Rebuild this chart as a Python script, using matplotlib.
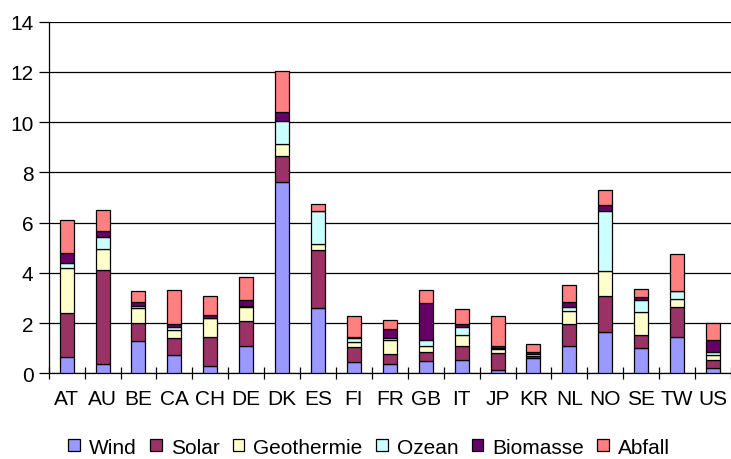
import matplotlib
matplotlib.use("Agg")
import matplotlib.pyplot as plt
import numpy as np

plt.rcParams['font.family'] = ['Liberation Sans', 'DejaVu Sans']

countries = ["AT", "AU", "BE", "CA", "CH", "DE", "DK", "ES", "FI", "FR",
             "GB", "IT", "JP", "KR", "NL", "NO", "SE", "TW", "US"]
wind      = [0.66, 0.37, 1.28, 0.73, 0.28, 1.08, 7.63, 2.60, 0.44, 0.36,
             0.48, 0.52, 0.14, 0.60, 1.09, 1.66, 1.02, 1.46, 0.20]
solar     = [1.74, 3.73, 0.72, 0.68, 1.15, 1.00, 1.04, 2.30, 0.61, 0.40,
             0.36, 0.58, 0.66, 0.10, 0.89, 1.42, 0.49, 1.19, 0.33]
geotherm  = [1.78, 0.86, 0.60, 0.30, 0.76, 0.55, 0.45, 0.25, 0.21, 0.58,
             0.25, 0.44, 0.17, 0.00, 0.51, 1.01, 0.92, 0.31, 0.21]
ozean     = [0.21, 0.46, 0.07, 0.12, 0.03, 0.05, 0.92, 1.30, 0.15, 0.08,
             0.25, 0.29, 0.02, 0.07, 0.14, 2.39, 0.49, 0.31, 0.11]
biomasse  = [0.40, 0.24, 0.16, 0.13, 0.11, 0.23, 0.37, 0.02, 0.03, 0.34,
             1.45, 0.12, 0.09, 0.07, 0.20, 0.21, 0.11, 0.00, 0.48]
abfall    = [1.33, 0.85, 0.44, 1.37, 0.73, 0.92, 1.63, 0.26, 0.83, 0.38,
             0.52, 0.61, 1.21, 0.32, 0.69, 0.61, 0.32, 1.48, 0.66]

series_names = ["Wind", "Solar", "Geothermie", "Ozean", "Biomasse", "Abfall"]
series = [wind, solar, geotherm, ozean, biomasse, abfall]
colors = ["#9999FF", "#993366", "#FFFFCC", "#CCFFFF", "#660066", "#FF8080"]

fig = plt.figure(figsize=(7.31, 4.60), dpi=100)
ax = fig.add_axes([0.0666, 0.1863, 0.9334, 0.7644])

x = np.arange(len(countries))
bottom = np.zeros(len(countries))
handles = []
for name, vals, c in zip(series_names, series, colors):
    v = np.array(vals)
    b = ax.bar(x, v, width=0.39, bottom=bottom, color=c, edgecolor="black",
               linewidth=0.9, label=name, zorder=3)
    handles.append(b)
    bottom += v

ax.set_xlim(-0.5, len(countries) - 0.5)
ax.set_ylim(0, 14)
ax.set_yticks(np.arange(0, 15, 2))
ax.yaxis.grid(True, color="black", linewidth=0.9, zorder=0)
ax.set_axisbelow(True)

ax.set_xticks(x)
ax.set_xticklabels(countries)
ax.set_xticks(np.arange(-0.5, len(countries)), minor=True)
ax.tick_params(axis="x", which="major", length=0, pad=11, labelsize=15)
ax.tick_params(axis="x", which="minor", length=9, direction="inout", width=0.9)
ax.tick_params(axis="y", which="major", length=7, direction="out", width=0.9,
               labelsize=15, pad=4)

for s in ["top", "right"]:
    ax.spines[s].set_visible(False)
for s in ["left", "bottom"]:
    ax.spines[s].set_linewidth(0.9)

leg = fig.legend(handles=handles, labels=series_names, loc="center",
                 bbox_to_anchor=(0.505, 0.026), ncol=6, frameon=False,
                 fontsize=15, handlelength=0.55, handleheight=0.5,
                 handletextpad=0.43, columnspacing=0.65, borderpad=0)

fig.savefig("out.png", dpi=100)
